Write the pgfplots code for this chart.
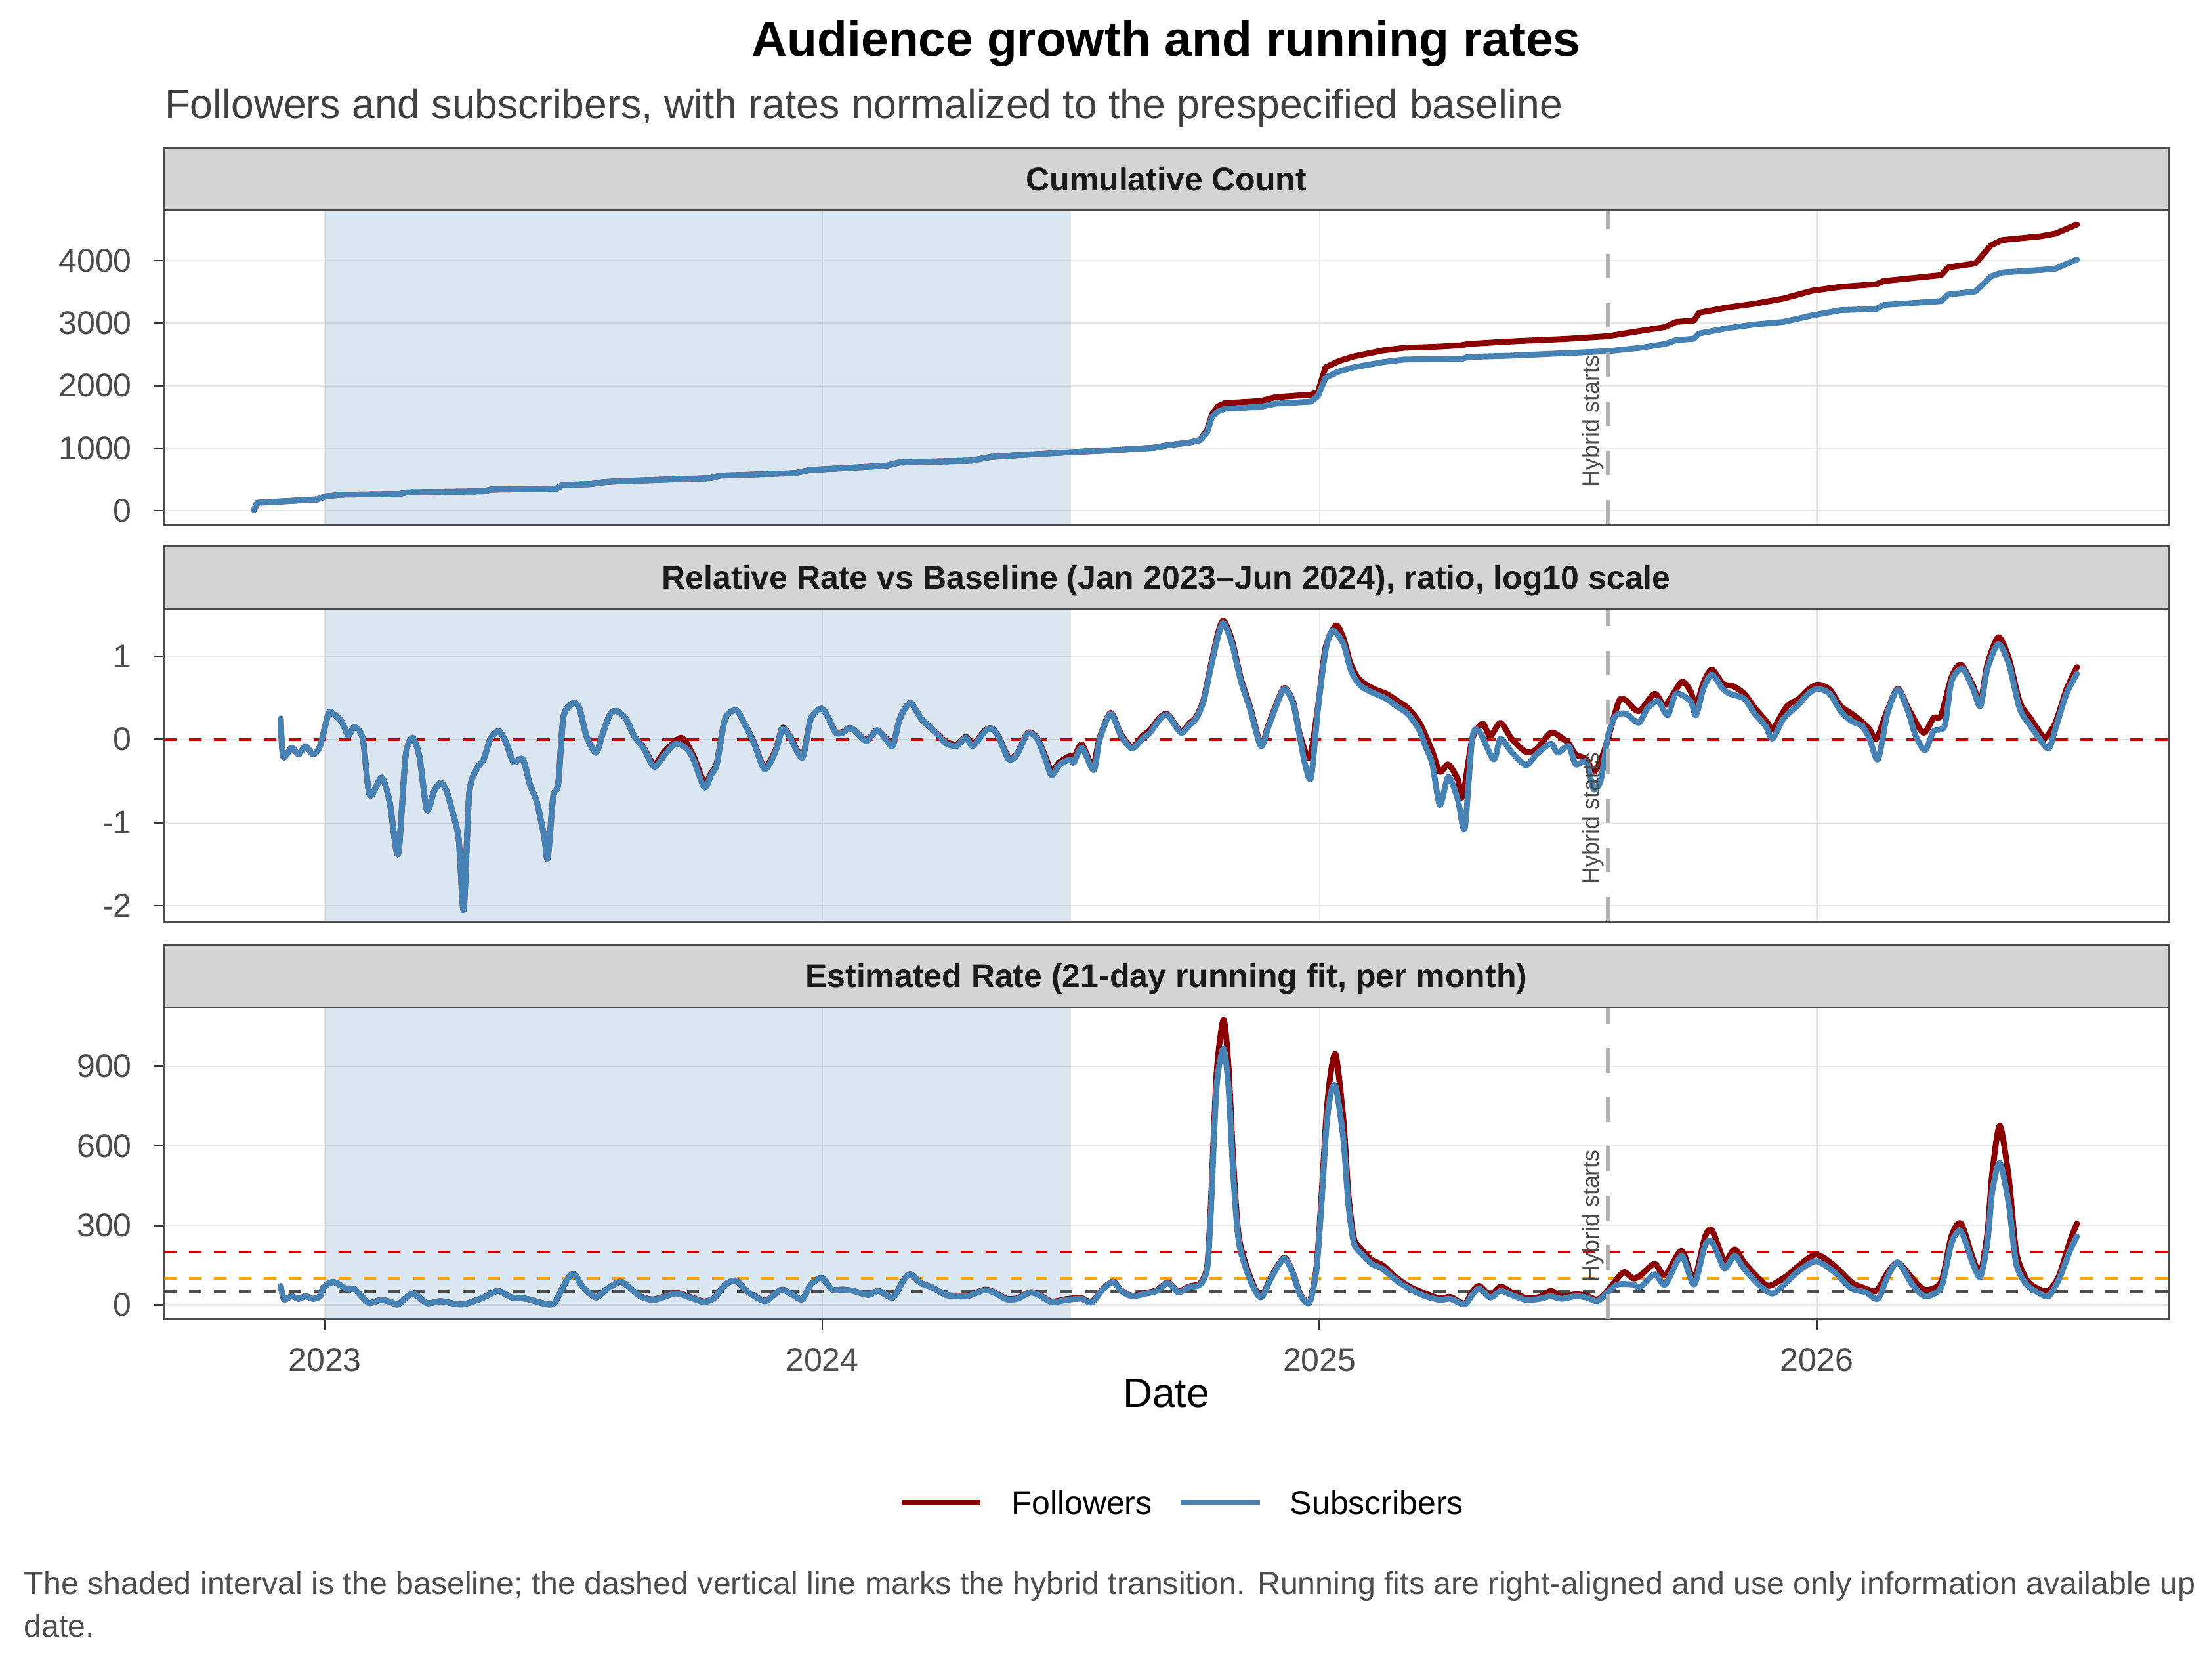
\documentclass[border=0pt]{standalone}
\usepackage{fontspec}
\setmainfont{Liberation Sans}
\usepackage{pgfplots}
\pgfplotsset{compat=1.18}
\definecolor{follow}{HTML}{8B0000}
\definecolor{subs}{HTML}{4682B4}
\definecolor{stripgray}{HTML}{D4D4D4}
\definecolor{bordergray}{HTML}{4D4D4D}
\definecolor{gridgray}{HTML}{E8E8E8}
\definecolor{tickgray}{HTML}{4D4D4D}
\definecolor{redline}{HTML}{CC0000}
\definecolor{orangeline}{HTML}{FFA500}
\definecolor{darkline}{HTML}{4D4D4D}
\definecolor{hybridgray}{HTML}{B3B3B3}
\definecolor{captiongray}{HTML}{4D4D4D}
\definecolor{subgray}{HTML}{404040}

\tikzset{hybridtext/.style={rotate=90, anchor=base west, inner sep=0pt, font=\fontsize{8.6}{10}\selectfont, text=tickgray}}
\pgfplotsset{
  panel/.style={
    scale only axis, width=732.9pt,
    xmin=2022.677, xmax=2026.707,
    xtick={2023,2024,2025,2026},
    grid=major,
    major grid style={gridgray, line width=0.55pt},
    axis line style={bordergray, line width=0.7pt},
    tick pos=left, tick align=outside,
    major tick length=3.75pt,
    tick style={color=black!80, line width=0.6pt},
    ticklabel style={font=\fontsize{12}{14}\selectfont, text=tickgray},
    /pgf/number format/assume math mode=true,
    /pgf/number format/1000 sep={},
    yticklabel style={anchor=east, inner sep=0pt, xshift=-8pt},
  },
  noxlabels/.style={xticklabels={}, xtick style={draw=none}},
  dataline/.style={line width=2.15pt, line join=round, line cap=round},
  smoothline/.style={dataline, smooth, tension=0.45},
  shade/.style={draw=none, fill=subs, fill opacity=0.2},
  hybrid/.style={hybridgray, line width=1.7pt, dash pattern=on 9pt off 9pt},
  hlinedash/.style={line width=1.0pt, dash pattern=on 4.5pt off 4.6pt},
}

\begin{document}
\begin{tikzpicture}
\useasboundingbox (0,0) rectangle (806.4pt,614.4pt);

% ---------------- top panel ----------------
\begin{axis}[panel, noxlabels, name=top,
  at={(60.1pt,422.6pt)}, anchor=south west, height=114.9pt,
  ymin=-220, ymax=4802, ytick={0,1000,2000,3000,4000}]
\addplot[shade] coordinates {(2023.0,-220) (2024.5,-220) (2024.5,4802) (2023.0,4802)} -- cycle;
\addplot[dataline, follow] table {
x y
2022.857 8
2022.864 125
2022.985 180
2023.000 228
2023.033 255
2023.150 268
2023.165 292
2023.320 310
2023.333 338
2023.465 352
2023.478 410
2023.535 425
2023.560 455
2023.590 470
2023.775 520
2023.795 560
2023.945 600
2023.975 650
2024.130 720
2024.155 770
2024.300 800
2024.340 860
2024.400 890
2024.490 930
2024.594 970
2024.666 1005
2024.695 1046
2024.738 1088
2024.760 1129
2024.774 1295
2024.784 1540
2024.796 1669
2024.810 1719
2024.882 1752
2024.911 1814
2024.983 1855
2024.997 1900
2025.012 2291
2025.040 2395
2025.069 2466
2025.127 2561
2025.170 2603
2025.242 2623
2025.285 2644
2025.299 2665
2025.386 2706
2025.501 2748
2025.580 2789
2025.645 2873
2025.695 2935
2025.717 3018
2025.753 3039
2025.763 3163
2025.818 3246
2025.875 3308
2025.933 3391
2025.991 3516
2026.048 3578
2026.120 3620
2026.134 3670
2026.250 3765
2026.264 3889
2026.319 3952
2026.350 4241
2026.372 4325
2026.451 4387
2026.480 4429
2026.523 4574
};
\addplot[dataline, subs] table {
x y
2022.857 8
2022.864 125
2022.985 180
2023.000 228
2023.033 255
2023.150 268
2023.165 292
2023.320 310
2023.333 338
2023.465 352
2023.478 410
2023.535 425
2023.560 455
2023.590 470
2023.775 520
2023.795 560
2023.945 600
2023.975 650
2024.130 720
2024.155 770
2024.300 800
2024.340 860
2024.400 890
2024.490 930
2024.594 970
2024.666 1005
2024.695 1046
2024.738 1088
2024.760 1129
2024.774 1254
2024.784 1503
2024.796 1586
2024.810 1627
2024.882 1660
2024.911 1710
2024.983 1743
2024.997 1835
2025.012 2125
2025.040 2229
2025.069 2291
2025.127 2374
2025.170 2416
2025.285 2424
2025.299 2457
2025.386 2478
2025.501 2520
2025.580 2549
2025.645 2603
2025.695 2665
2025.717 2727
2025.753 2748
2025.763 2831
2025.818 2914
2025.875 2976
2025.933 3018
2025.991 3122
2026.048 3205
2026.120 3225
2026.134 3288
2026.250 3350
2026.264 3454
2026.319 3504
2026.350 3744
2026.372 3807
2026.451 3848
2026.480 3869
2026.523 4014
};
\addplot[hybrid] coordinates {(2025.58,-220) (2025.58,4802)};
\node[hybridtext] at ([xshift=-3.4pt,yshift=13.4pt]axis cs:2025.58,-220) {Hybrid starts};
\end{axis}

% ---------------- middle panel ----------------
\begin{axis}[panel, noxlabels, name=mid,
  at={(60.1pt,277.4pt)}, anchor=south west, height=114.3pt,
  ymin=-2.19, ymax=1.57, ytick={-2,-1,0,1}]
\addplot[shade] coordinates {(2023.0,-2.19) (2024.5,-2.19) (2024.5,1.57) (2023.0,1.57)} -- cycle;
\addplot[hlinedash, redline] coordinates {(2022.677,0) (2026.707,0)};
\addplot[smoothline, follow] table {
x y
2022.911 0.25
2022.916 -0.21
2022.933 -0.10
2022.947 -0.18
2022.961 -0.08
2022.976 -0.18
2022.990 -0.08
2023.007 0.31
2023.016 0.31
2023.033 0.22
2023.047 0.05
2023.059 0.15
2023.076 0.01
2023.090 -0.67
2023.114 -0.46
2023.130 -0.75
2023.147 -1.38
2023.162 -0.21
2023.176 0.02
2023.190 -0.21
2023.205 -0.85
2023.219 -0.63
2023.233 -0.52
2023.245 -0.63
2023.255 -0.84
2023.269 -1.20
2023.279 -2.05
2023.290 -0.66
2023.305 -0.36
2023.319 -0.24
2023.333 0.01
2023.350 0.10
2023.365 -0.05
2023.379 -0.27
2023.398 -0.24
2023.412 -0.54
2023.426 -0.75
2023.441 -1.17
2023.448 -1.43
2023.459 -0.69
2023.469 -0.54
2023.479 0.25
2023.491 0.40
2023.502 0.44
2023.512 0.37
2023.526 0.04
2023.545 -0.16
2023.559 0.08
2023.574 0.31
2023.588 0.34
2023.605 0.25
2023.622 0.04
2023.641 -0.10
2023.662 -0.30
2023.684 -0.14
2023.717 0.02
2023.741 -0.20
2023.763 -0.52
2023.777 -0.40
2023.788 -0.28
2023.805 0.25
2023.827 0.35
2023.841 0.22
2023.863 -0.04
2023.884 -0.34
2023.906 -0.13
2023.920 0.14
2023.934 0.05
2023.960 -0.20
2023.977 0.25
2023.999 0.37
2024.013 0.25
2024.027 0.09
2024.041 0.09
2024.056 0.14
2024.070 0.08
2024.089 -0.01
2024.110 0.11
2024.127 0.02
2024.142 -0.07
2024.156 0.25
2024.177 0.44
2024.199 0.25
2024.220 0.13
2024.235 0.05
2024.249 -0.03
2024.270 -0.06
2024.289 0.03
2024.303 -0.06
2024.328 0.11
2024.342 0.13
2024.356 0.02
2024.375 -0.22
2024.392 -0.17
2024.413 0.08
2024.432 0.02
2024.449 -0.21
2024.461 -0.38
2024.478 -0.27
2024.499 -0.20
2024.506 -0.22
2024.522 -0.06
2024.544 -0.32
2024.558 0.02
2024.580 0.32
2024.601 0.06
2024.623 -0.09
2024.644 0.04
2024.659 0.11
2024.680 0.27
2024.695 0.30
2024.721 0.10
2024.738 0.19
2024.752 0.27
2024.767 0.48
2024.781 0.88
2024.796 1.28
2024.807 1.43
2024.824 1.19
2024.842 0.73
2024.860 0.40
2024.882 -0.06
2024.896 0.15
2024.911 0.39
2024.929 0.62
2024.947 0.45
2024.961 0.05
2024.980 -0.22
2024.997 0.40
2025.012 1.10
2025.033 1.37
2025.048 1.22
2025.062 0.92
2025.076 0.75
2025.091 0.67
2025.112 0.60
2025.134 0.55
2025.155 0.47
2025.177 0.38
2025.199 0.22
2025.213 0.05
2025.227 -0.15
2025.242 -0.39
2025.259 -0.30
2025.278 -0.48
2025.288 -0.69
2025.307 0.00
2025.328 0.19
2025.343 0.04
2025.364 0.20
2025.386 0.01
2025.415 -0.15
2025.436 -0.12
2025.465 0.08
2025.487 0.02
2025.501 -0.05
2025.515 -0.18
2025.537 -0.24
2025.551 -0.39
2025.566 -0.25
2025.580 0.01
2025.602 0.46
2025.616 0.47
2025.642 0.34
2025.674 0.55
2025.695 0.41
2025.728 0.69
2025.746 0.58
2025.757 0.40
2025.772 0.68
2025.789 0.84
2025.811 0.67
2025.832 0.64
2025.854 0.55
2025.875 0.38
2025.901 0.20
2025.911 0.12
2025.940 0.40
2025.962 0.48
2025.983 0.60
2026.002 0.66
2026.026 0.60
2026.048 0.40
2026.070 0.31
2026.091 0.21
2026.106 0.12
2026.120 0.01
2026.142 0.35
2026.163 0.61
2026.185 0.36
2026.214 0.08
2026.235 0.26
2026.250 0.29
2026.271 0.75
2026.290 0.90
2026.314 0.65
2026.329 0.45
2026.343 0.90
2026.365 1.23
2026.386 0.98
2026.408 0.45
2026.430 0.25
2026.451 0.06
2026.458 0.01
2026.480 0.20
2026.502 0.60
2026.523 0.87
};
\addplot[smoothline, subs] table {
x y
2022.911 0.25
2022.916 -0.21
2022.933 -0.10
2022.947 -0.18
2022.961 -0.08
2022.976 -0.18
2022.990 -0.08
2023.007 0.31
2023.016 0.31
2023.033 0.22
2023.047 0.05
2023.059 0.15
2023.076 0.01
2023.090 -0.67
2023.114 -0.46
2023.130 -0.75
2023.147 -1.38
2023.162 -0.21
2023.176 0.02
2023.190 -0.21
2023.205 -0.85
2023.219 -0.63
2023.233 -0.52
2023.245 -0.63
2023.255 -0.84
2023.269 -1.20
2023.279 -2.05
2023.290 -0.66
2023.305 -0.36
2023.319 -0.24
2023.333 0.01
2023.350 0.10
2023.365 -0.05
2023.379 -0.27
2023.398 -0.24
2023.412 -0.54
2023.426 -0.75
2023.441 -1.17
2023.448 -1.43
2023.459 -0.69
2023.469 -0.54
2023.479 0.25
2023.491 0.40
2023.502 0.44
2023.512 0.37
2023.526 0.04
2023.545 -0.16
2023.559 0.08
2023.574 0.31
2023.588 0.34
2023.605 0.25
2023.622 0.04
2023.641 -0.11
2023.662 -0.33
2023.684 -0.18
2023.705 -0.05
2023.727 -0.11
2023.741 -0.24
2023.763 -0.58
2023.777 -0.42
2023.788 -0.30
2023.805 0.25
2023.827 0.35
2023.841 0.22
2023.863 -0.05
2023.884 -0.36
2023.906 -0.15
2023.920 0.13
2023.934 0.04
2023.960 -0.22
2023.977 0.25
2023.999 0.37
2024.013 0.25
2024.027 0.08
2024.041 0.08
2024.056 0.14
2024.070 0.08
2024.089 -0.02
2024.110 0.11
2024.127 0.01
2024.142 -0.08
2024.156 0.25
2024.177 0.44
2024.199 0.25
2024.220 0.13
2024.235 0.04
2024.249 -0.05
2024.270 -0.08
2024.289 0.02
2024.303 -0.08
2024.328 0.10
2024.342 0.13
2024.356 0.01
2024.375 -0.24
2024.392 -0.18
2024.413 0.07
2024.432 0.01
2024.449 -0.24
2024.461 -0.43
2024.478 -0.30
2024.499 -0.24
2024.506 -0.28
2024.522 -0.10
2024.546 -0.37
2024.558 0.00
2024.580 0.31
2024.601 0.04
2024.623 -0.11
2024.644 0.01
2024.659 0.08
2024.680 0.25
2024.695 0.29
2024.721 0.08
2024.738 0.17
2024.752 0.25
2024.767 0.46
2024.781 0.85
2024.796 1.24
2024.807 1.40
2024.824 1.15
2024.842 0.70
2024.860 0.37
2024.882 -0.08
2024.896 0.13
2024.911 0.37
2024.929 0.61
2024.947 0.43
2024.961 0.01
2024.971 -0.30
2024.983 -0.46
2024.997 0.37
2025.012 1.06
2025.026 1.31
2025.048 1.15
2025.062 0.85
2025.076 0.69
2025.091 0.61
2025.112 0.55
2025.134 0.49
2025.155 0.40
2025.177 0.31
2025.199 0.13
2025.213 -0.08
2025.227 -0.30
2025.242 -0.79
2025.259 -0.45
2025.278 -0.72
2025.292 -1.07
2025.307 0.01
2025.321 0.10
2025.350 -0.24
2025.364 0.01
2025.386 -0.15
2025.415 -0.31
2025.436 -0.18
2025.465 -0.05
2025.479 -0.16
2025.501 -0.08
2025.515 -0.30
2025.537 -0.27
2025.551 -0.60
2025.566 -0.48
2025.580 0.04
2025.595 0.28
2025.616 0.31
2025.642 0.20
2025.659 0.37
2025.681 0.46
2025.700 0.29
2025.717 0.55
2025.746 0.46
2025.757 0.29
2025.772 0.61
2025.789 0.78
2025.811 0.61
2025.825 0.55
2025.854 0.49
2025.875 0.31
2025.897 0.16
2025.911 0.01
2025.933 0.25
2025.962 0.41
2025.983 0.55
2026.002 0.61
2026.026 0.55
2026.048 0.34
2026.070 0.22
2026.091 0.16
2026.106 0.01
2026.123 -0.24
2026.142 0.31
2026.163 0.60
2026.185 0.31
2026.199 0.04
2026.218 -0.13
2026.235 0.10
2026.257 0.16
2026.271 0.70
2026.293 0.85
2026.314 0.61
2026.329 0.40
2026.343 0.85
2026.365 1.15
2026.386 0.91
2026.408 0.37
2026.430 0.16
2026.444 0.04
2026.466 -0.11
2026.480 0.13
2026.502 0.55
2026.523 0.79
};
\addplot[hybrid] coordinates {(2025.58,-2.19) (2025.58,1.57)};
\node[hybridtext] at ([xshift=-3.4pt,yshift=13.4pt]axis cs:2025.58,-2.19) {Hybrid starts};
\end{axis}

% ---------------- bottom panel ----------------
\begin{axis}[panel, name=bot,
  at={(60.1pt,132.0pt)}, anchor=south west, height=114.0pt,
  ymin=-53, ymax=1122, ytick={0,300,600,900},
  xticklabels={2023,2024,2025,2026},
  xticklabel style={anchor=base, inner sep=0pt, yshift=-15.4pt}]
\addplot[shade] coordinates {(2023.0,-53) (2024.5,-53) (2024.5,1122) (2023.0,1122)} -- cycle;
\addplot[hlinedash, redline] coordinates {(2022.677,200) (2026.707,200)};
\addplot[hlinedash, orangeline] coordinates {(2022.677,100) (2026.707,100)};
\addplot[hlinedash, darkline] coordinates {(2022.677,50) (2026.707,50)};
\addplot[smoothline, follow] table {
x y
2022.911 72
2022.918 21
2022.933 33
2022.947 23
2022.961 33
2022.976 23
2022.990 33
2022.997 67
2023.016 87
2023.033 72
2023.047 58
2023.059 60
2023.076 28
2023.090 7
2023.112 19
2023.133 11
2023.147 2
2023.176 43
2023.205 7
2023.233 14
2023.276 2
2023.319 28
2023.348 53
2023.376 28
2023.405 23
2023.448 2
2023.462 9
2023.476 58
2023.491 106
2023.502 116
2023.519 67
2023.545 28
2023.562 53
2023.591 87
2023.605 77
2023.634 33
2023.662 21
2023.705 45
2023.734 30
2023.763 13
2023.784 28
2023.805 77
2023.827 92
2023.848 53
2023.884 16
2023.906 43
2023.920 58
2023.941 38
2023.960 21
2023.977 77
2023.999 102
2024.020 58
2024.041 58
2024.063 53
2024.092 38
2024.113 53
2024.142 28
2024.163 92
2024.177 116
2024.199 82
2024.220 67
2024.249 38
2024.270 35
2024.292 35
2024.328 58
2024.349 45
2024.371 23
2024.392 25
2024.418 48
2024.435 40
2024.461 13
2024.492 22
2024.521 26
2024.542 11
2024.564 60
2024.585 88
2024.601 55
2024.623 35
2024.652 46
2024.673 56
2024.695 85
2024.716 52
2024.738 70
2024.760 82
2024.774 145
2024.781 360
2024.793 870
2024.807 1075
2024.817 900
2024.827 530
2024.838 255
2024.860 108
2024.882 32
2024.904 110
2024.929 178
2024.947 120
2024.961 42
2024.980 12
2024.994 145
2025.004 410
2025.014 720
2025.023 880
2025.033 942
2025.048 700
2025.058 420
2025.069 253
2025.084 210
2025.105 170
2025.127 150
2025.155 102
2025.184 66
2025.213 43
2025.242 24
2025.263 30
2025.292 5
2025.307 50
2025.321 72
2025.343 38
2025.364 69
2025.386 48
2025.415 27
2025.443 30
2025.465 53
2025.487 32
2025.515 40
2025.537 35
2025.559 20
2025.580 55
2025.599 100
2025.613 124
2025.631 100
2025.645 111
2025.674 155
2025.695 111
2025.728 204
2025.753 97
2025.775 255
2025.789 282
2025.811 175
2025.818 165
2025.835 210
2025.854 160
2025.883 100
2025.904 72
2025.940 110
2025.962 145
2025.998 190
2026.034 150
2026.070 85
2026.098 62
2026.120 53
2026.142 120
2026.163 160
2026.192 100
2026.218 57
2026.250 87
2026.271 260
2026.290 307
2026.314 175
2026.329 120
2026.343 270
2026.353 500
2026.368 675
2026.386 480
2026.401 200
2026.422 95
2026.444 62
2026.466 53
2026.487 110
2026.509 240
2026.523 307
};
\addplot[smoothline, subs] table {
x y
2022.911 72
2022.918 21
2022.933 33
2022.947 23
2022.961 33
2022.976 23
2022.990 33
2022.997 67
2023.016 87
2023.033 72
2023.047 58
2023.059 60
2023.076 28
2023.090 7
2023.112 19
2023.133 11
2023.147 2
2023.176 43
2023.205 7
2023.233 14
2023.276 2
2023.319 28
2023.348 53
2023.376 28
2023.405 23
2023.448 2
2023.462 9
2023.476 58
2023.491 106
2023.502 116
2023.519 67
2023.545 28
2023.562 53
2023.591 87
2023.605 77
2023.634 33
2023.662 19
2023.705 43
2023.734 28
2023.763 11
2023.784 28
2023.805 77
2023.827 92
2023.848 53
2023.884 14
2023.906 43
2023.920 58
2023.941 38
2023.960 21
2023.977 77
2023.999 102
2024.020 58
2024.041 58
2024.063 53
2024.092 38
2024.113 53
2024.142 28
2024.163 92
2024.177 116
2024.199 82
2024.220 67
2024.249 38
2024.270 33
2024.292 33
2024.328 56
2024.349 43
2024.371 21
2024.392 23
2024.418 46
2024.435 38
2024.461 11
2024.492 19
2024.521 23
2024.542 9
2024.564 58
2024.585 87
2024.601 53
2024.623 33
2024.652 43
2024.673 53
2024.695 82
2024.716 48
2024.738 67
2024.760 77
2024.774 136
2024.781 331
2024.793 820
2024.807 966
2024.817 820
2024.827 478
2024.838 234
2024.860 97
2024.882 28
2024.904 106
2024.929 175
2024.947 116
2024.961 38
2024.980 9
2024.994 136
2025.004 380
2025.014 673
2025.023 800
2025.033 820
2025.048 625
2025.058 380
2025.069 234
2025.084 194
2025.105 155
2025.127 136
2025.155 92
2025.184 58
2025.213 33
2025.242 19
2025.263 23
2025.292 2
2025.307 38
2025.321 62
2025.343 28
2025.364 53
2025.386 38
2025.415 19
2025.443 23
2025.465 33
2025.487 23
2025.515 33
2025.537 28
2025.559 14
2025.580 48
2025.599 77
2025.631 77
2025.645 67
2025.674 116
2025.695 77
2025.728 185
2025.753 77
2025.775 224
2025.789 238
2025.811 146
2025.818 141
2025.835 185
2025.854 136
2025.883 77
2025.911 43
2025.940 87
2025.962 126
2025.998 165
2026.034 126
2026.070 62
2026.098 48
2026.123 23
2026.142 106
2026.163 160
2026.192 77
2026.218 33
2026.250 67
2026.271 234
2026.290 277
2026.314 155
2026.329 106
2026.343 234
2026.353 429
2026.368 536
2026.386 380
2026.401 155
2026.422 77
2026.444 48
2026.466 33
2026.487 97
2026.509 204
2026.523 258
};
\addplot[hybrid] coordinates {(2025.58,-53) (2025.58,1122)};
\node[hybridtext] at ([xshift=-3.4pt,yshift=13.4pt]axis cs:2025.58,-53) {Hybrid starts};
\end{axis}

% ---------------- strips ----------------
\foreach \ax/\lab in {top/{Cumulative Count}, mid/{Relative Rate vs Baseline (Jan 2023–Jun 2024), ratio, log10 scale}, bot/{Estimated Rate (21-day running fit, per month)}}{
  \draw[fill=stripgray, draw=bordergray, line width=0.7pt] (\ax.north west) rectangle ([yshift=22.8pt]\ax.north east);
  \node[anchor=base, inner sep=0pt, font=\bfseries\fontsize{12}{14}\selectfont, text=black!90] at ([yshift=7.2pt]\ax.north) {\lab};
}

% ---------------- titles ----------------
\node[anchor=base, inner sep=0pt, font=\bfseries\fontsize{18}{21}\selectfont] at (426.5pt,593.8pt) {Audience growth and running rates};
\node[anchor=base west, inner sep=0pt, font=\fontsize{15}{18}\selectfont, text=subgray] at (60.2pt,571.0pt) {Followers and subscribers, with rates normalized to the prespecified baseline};
\node[anchor=base, inner sep=0pt, font=\fontsize{15}{18}\selectfont] at (426.5pt,99.6pt) {Date};

% ---------------- legend ----------------
\draw[follow, line width=2.15pt] (329.8pt,64.8pt) -- (358.6pt,64.8pt);
\node[anchor=west, inner sep=0pt, font=\fontsize{12}{14}\selectfont] at (369.8pt,64.8pt) {Followers};
\draw[subs, line width=2.15pt] (432pt,64.8pt) -- (460.8pt,64.8pt);
\node[anchor=west, inner sep=0pt, font=\fontsize{12}{14}\selectfont] at (471.6pt,64.8pt) {Subscribers};

% ---------------- caption ----------------
\node[anchor=base west, inner sep=0pt, font=\fontsize{11.6}{14}\selectfont, text=captiongray] at (8.6pt,31.2pt) {The shaded interval is the baseline; the dashed vertical line marks the hybrid transition. Running fits are right-aligned and use only information available up};
\node[anchor=base west, inner sep=0pt, font=\fontsize{11.6}{14}\selectfont, text=captiongray] at (8.6pt,15.7pt) {date.};
\end{tikzpicture}
\end{document}
